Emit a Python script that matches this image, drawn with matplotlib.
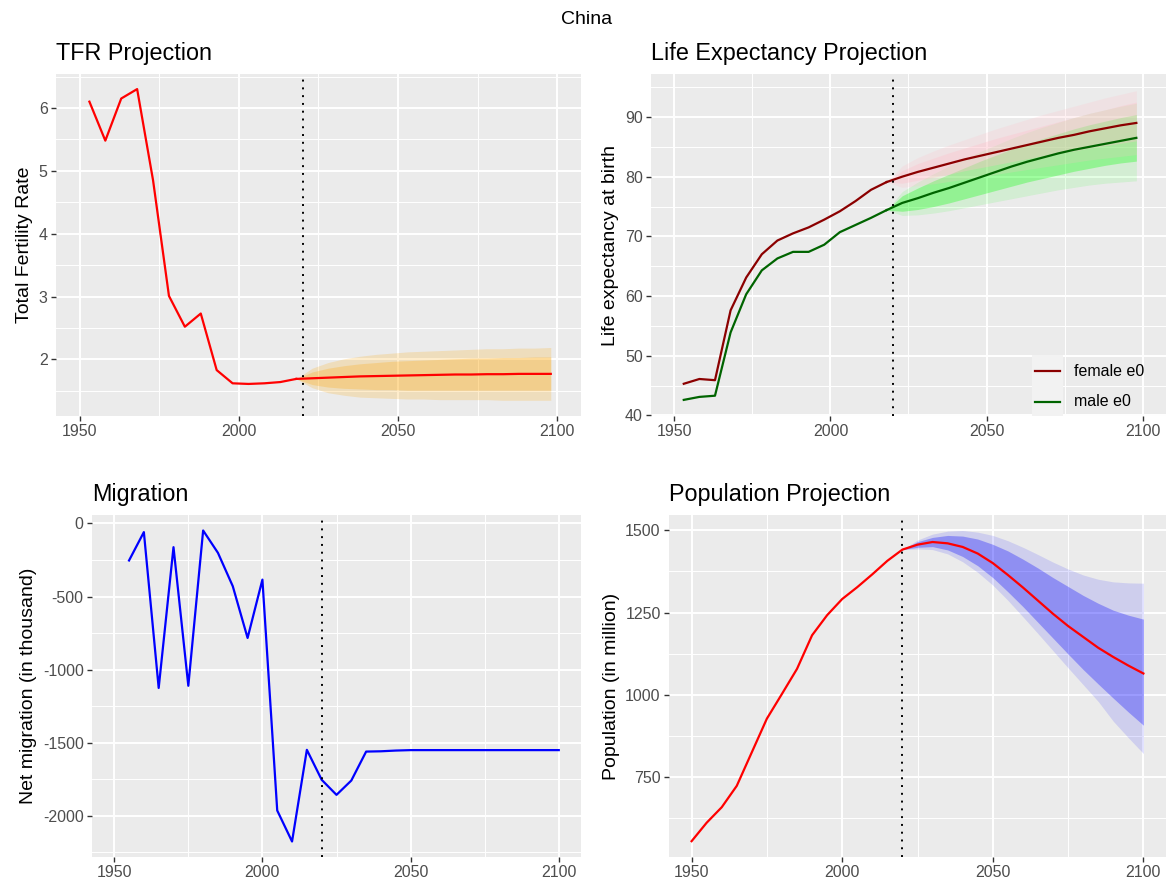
import matplotlib
matplotlib.use("Agg")
import matplotlib.pyplot as plt
from matplotlib.patches import Rectangle
from matplotlib.lines import Line2D
import numpy as np

plt.rcParams['font.family'] = ['Liberation Sans', 'DejaVu Sans']
plt.rcParams['axes.unicode_minus'] = False

# ---- data -------------------------------------------------------------
# TFR (five-year mid points)
tfr_hist_years = [1953, 1958, 1963, 1968, 1973, 1978, 1983, 1988, 1993, 1998, 2003, 2008, 2013, 2018]
tfr_hist = [6.10, 5.48, 6.15, 6.30, 4.85, 3.01, 2.52, 2.73, 1.83, 1.62, 1.61, 1.62, 1.64, 1.69]
proj_years = [2018, 2023, 2028, 2033, 2038, 2043, 2048, 2053, 2058, 2063, 2068, 2073, 2078, 2083, 2088, 2093, 2098]
tfr_med = [1.69, 1.70, 1.71, 1.72, 1.73, 1.735, 1.74, 1.745, 1.75, 1.755, 1.76, 1.76, 1.765, 1.765, 1.77, 1.77, 1.77]
tfr_lo80 = [1.69, 1.60, 1.56, 1.54, 1.53, 1.52, 1.52, 1.51, 1.51, 1.51, 1.51, 1.51, 1.51, 1.51, 1.51, 1.51, 1.51]
tfr_hi80 = [1.69, 1.80, 1.86, 1.90, 1.93, 1.95, 1.97, 1.98, 1.99, 2.00, 2.01, 2.02, 2.02, 2.03, 2.03, 2.04, 2.04]
tfr_lo95 = [1.69, 1.55, 1.47, 1.43, 1.40, 1.39, 1.38, 1.37, 1.37, 1.36, 1.36, 1.36, 1.36, 1.35, 1.35, 1.35, 1.35]
tfr_hi95 = [1.69, 1.86, 1.95, 2.01, 2.05, 2.08, 2.10, 2.12, 2.13, 2.14, 2.15, 2.16, 2.17, 2.17, 2.18, 2.18, 2.19]

# life expectancy
e0f_hist = [45.3, 46.1, 45.9, 57.6, 63.1, 67.0, 69.3, 70.5, 71.5, 72.8, 74.2, 75.9, 77.8, 79.1]
e0m_hist = [42.6, 43.1, 43.3, 53.9, 60.3, 64.3, 66.3, 67.4, 67.4, 68.6, 70.7, 71.9, 73.1, 74.4]
e0f_med = [79.1, 80.0, 80.8, 81.5, 82.2, 82.9, 83.5, 84.1, 84.7, 85.3, 85.9, 86.5, 87.0, 87.6, 88.1, 88.6, 89.0]
e0f_hi80 = [79.1, 81.0, 82.2, 83.1, 84.0, 84.8, 85.6, 86.4, 87.1, 87.8, 88.5, 89.2, 89.9, 90.6, 91.2, 91.9, 92.5]
e0f_lo80 = [79.1, 78.9, 79.4, 79.9, 80.4, 81.0, 81.5, 82.0, 82.5, 83.0, 83.5, 83.9, 84.3, 84.8, 85.2, 85.6, 86.0]
e0f_hi95 = [79.1, 81.8, 83.2, 84.3, 85.3, 86.2, 87.1, 88.0, 88.8, 89.6, 90.4, 91.1, 91.8, 92.5, 93.2, 93.8, 94.4]
e0f_lo95 = [79.1, 78.2, 78.5, 78.8, 79.2, 79.6, 80.0, 80.4, 80.8, 81.2, 81.6, 82.0, 82.4, 82.8, 83.1, 83.4, 83.7]
e0m_med = [74.4, 75.6, 76.4, 77.3, 78.1, 79.0, 79.9, 80.8, 81.7, 82.5, 83.2, 83.9, 84.5, 85.0, 85.5, 86.0, 86.5]
e0m_hi80 = [74.4, 76.8, 78.1, 79.3, 80.4, 81.5, 82.6, 83.6, 84.6, 85.5, 86.4, 87.2, 88.0, 88.7, 89.3, 89.9, 90.4]
e0m_lo80 = [74.4, 74.2, 74.5, 75.0, 75.6, 76.3, 77.0, 77.7, 78.4, 79.1, 79.7, 80.3, 80.9, 81.4, 81.9, 82.3, 82.6]
e0m_hi95 = [74.4, 77.5, 79.1, 80.5, 81.8, 83.0, 84.2, 85.3, 86.4, 87.4, 88.3, 89.1, 89.9, 90.6, 91.2, 91.8, 92.3]
e0m_lo95 = [74.4, 73.5, 73.6, 73.9, 74.3, 74.8, 75.3, 75.8, 76.3, 76.8, 77.3, 77.8, 78.2, 78.6, 78.9, 79.1, 79.3]

# migration (thousand)
mig_years = list(range(1955, 2101, 5))
mig = [-253, -59, -1125, -162, -1110, -48, -201, -429, -783, -384,
       -1963, -2175, -1548, -1753, -1856, -1758, -1560, -1558, -1553, -1550,
       -1550, -1550, -1550, -1550, -1550, -1550, -1550, -1550, -1550, -1550]

# population (million)
pop_years = list(range(1950, 2101, 5))
pop = [556, 612, 659, 724, 826, 928, 1003, 1079, 1181, 1242, 1291, 1327, 1366, 1407, 1441,
       1456, 1464, 1460, 1449, 1429, 1400, 1364, 1326, 1286, 1246, 1209, 1176, 1143, 1115, 1089, 1065]
pop_proj_years = list(range(2020, 2101, 5))
pop_hi80 = [1441, 1465, 1478, 1484, 1482, 1473, 1457, 1437, 1412, 1385, 1356, 1329, 1302, 1278, 1257, 1242, 1230]
pop_lo80 = [1441, 1448, 1450, 1440, 1420, 1392, 1356, 1313, 1268, 1220, 1172, 1124, 1077, 1033, 990, 948, 908]
pop_hi95 = [1441, 1470, 1488, 1497, 1499, 1494, 1484, 1468, 1448, 1426, 1403, 1382, 1364, 1351, 1343, 1340, 1339]
pop_lo95 = [1441, 1443, 1441, 1428, 1404, 1372, 1333, 1287, 1237, 1186, 1134, 1082, 1031, 980, 920, 870, 822]

present_year = 2020
x_ticks = [1950, 2000, 2050, 2100]
x_minor = [1975, 2025, 2075]

# ---- figure -----------------------------------------------------------
W, H = 1173, 884
fig = plt.figure(figsize=(W / 100, H / 100), dpi=100)


def panel(l, r, t, b):
    return fig.add_axes([l / W, 1 - b / H, (r - l) / W, (b - t) / H])


def gg_style(ax, title, ylabel, yticks, yminor):
    ax.set_facecolor('#EBEBEB')
    for s in ax.spines.values():
        s.set_visible(False)
    ax.set_xlim(1942.5, 2107.5)
    ax.set_xticks(x_ticks)
    ax.set_xticks(x_minor, minor=True)
    ax.set_yticks(yticks)
    ax.set_yticks(yminor, minor=True)
    ax.grid(which='major', color='white', lw=1.4)
    ax.grid(which='minor', color='white', lw=0.7)
    ax.set_axisbelow(True)
    ax.tick_params(which='major', length=3.5, width=1.0, color='#333333',
                   labelcolor='#4D4D4D', labelsize=11.5, pad=2.5)
    ax.tick_params(which='minor', length=0)
    ax.set_title(title, loc='left', fontsize=16.8, pad=10)
    ax.set_ylabel(ylabel, fontsize=14, labelpad=4)


# TFR
ax1 = panel(56, 581, 74, 416)
ax1.fill_between(proj_years, tfr_lo95, tfr_hi95, color='orange', alpha=0.2, lw=0)
ax1.fill_between(proj_years, tfr_lo80, tfr_hi80, color='orange', alpha=0.25, lw=0)
ax1.plot(tfr_hist_years, tfr_hist, color='red', lw=1.6)
ax1.plot(proj_years, tfr_med, color='red', lw=1.6)
ax1.axvline(present_year, color='black', lw=1.4, ls=(0, (1, 3)))
gg_style(ax1, 'TFR Projection', 'Total Fertility Rate', [2, 3, 4, 5, 6], [1.5, 2.5, 3.5, 4.5, 5.5, 6.5])
ax1.set_ylim(1.10, 6.54)

# Life expectancy
ax2 = panel(651, 1166, 74, 416)
ax2.fill_between(proj_years, e0m_lo95, e0m_hi95, color=(0, 1, 0), alpha=0.1, lw=0)
ax2.fill_between(proj_years, e0m_lo80, e0m_hi80, color=(0, 1, 0), alpha=0.3, lw=0)
ax2.plot(tfr_hist_years, e0m_hist, color='darkgreen', lw=1.6)
ax2.plot(proj_years, e0m_med, color='darkgreen', lw=1.6)
ax2.fill_between(proj_years, e0f_lo95, e0f_hi95, color='pink', alpha=0.22, lw=0)
ax2.fill_between(proj_years, e0f_lo80, e0f_hi80, color='pink', alpha=0.35, lw=0)
ax2.plot(tfr_hist_years, e0f_hist, color='darkred', lw=1.6)
ax2.plot(proj_years, e0f_med, color='darkred', lw=1.6)
ax2.axvline(present_year, color='black', lw=1.4, ls=(0, (1, 3)))
gg_style(ax2, 'Life Expectancy Projection', 'Life expectancy at birth',
         [40, 50, 60, 70, 80, 90], [45, 55, 65, 75, 85, 95])
ax2.set_ylim(39.9, 97.2)

# legend (keys with grey95 background, like ggplot)
ax2.add_patch(Rectangle((0.740, 0.0), 0.060, 0.178, transform=ax2.transAxes,
                        facecolor='#F2F2F2', edgecolor='none', zorder=5))
for yk, col, lab in [(0.131, 'darkred', 'female e0'), (0.042, 'darkgreen', 'male e0')]:
    ax2.add_line(Line2D([0.746, 0.795], [yk, yk], transform=ax2.transAxes,
                        color=col, lw=1.6, zorder=6))
    ax2.text(0.821, yk, lab, transform=ax2.transAxes, fontsize=11.5,
             va='center', ha='left', zorder=6)

# Migration
ax3 = panel(92, 581, 515, 857)
ax3.plot(mig_years, mig, color='blue', lw=1.6)
ax3.axvline(present_year, color='black', lw=1.4, ls=(0, (1, 3)))
gg_style(ax3, 'Migration', 'Net migration (in thousand)',
         [0, -500, -1000, -1500, -2000], [-250, -750, -1250, -1750, -2250])
ax3.set_ylim(-2281, 58)

# Population
ax4 = panel(669, 1166, 515, 857)
ax4.fill_between(pop_proj_years, pop_lo95, pop_hi95, color='blue', alpha=0.12, lw=0)
ax4.fill_between(pop_proj_years, pop_lo80, pop_hi80, color='blue', alpha=0.3, lw=0)
ax4.plot(pop_years, pop, color='red', lw=1.6)
ax4.axvline(present_year, color='black', lw=1.4, ls=(0, (1, 3)))
gg_style(ax4, 'Population Projection', 'Population (in million)',
         [750, 1000, 1250, 1500], [625, 875, 1125, 1375])
ax4.set_ylim(508, 1546)

fig.text(0.5, 1 - 19 / H, 'China', ha='center', va='center', fontsize=14)

fig.savefig('out.png', dpi=100)
